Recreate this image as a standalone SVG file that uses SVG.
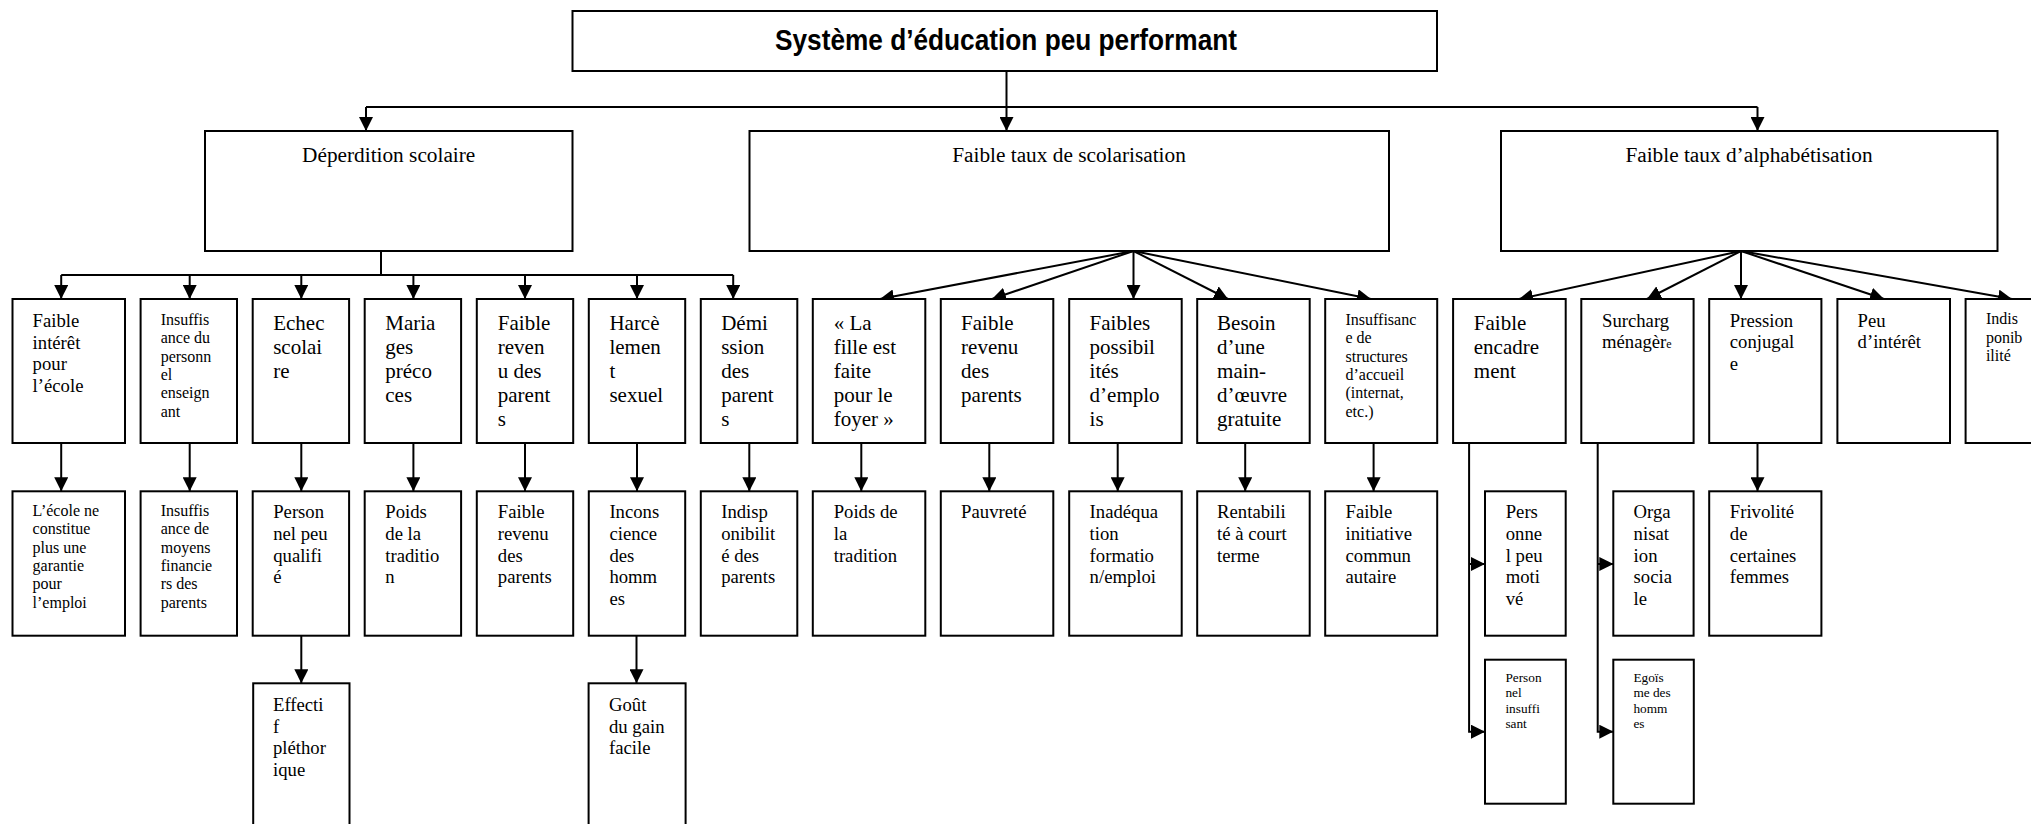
<svg xmlns="http://www.w3.org/2000/svg" width="2031" height="824" viewBox="0 0 2031 824">
  <defs>
    <marker id="arrow" markerUnits="userSpaceOnUse" markerWidth="14" markerHeight="14" refX="14" refY="7" orient="auto">
      <path d="M0,0 L14,7 L0,14 z" fill="#000"/>
    </marker>
    <style>
      .box { fill: #fff; stroke: #000; stroke-width: 2; }
      .wire { fill: none; stroke: #000; stroke-width: 2; }
      .arr { fill: none; stroke: #000; stroke-width: 2; marker-end: url(#arrow); }
      .title { font-family: "Liberation Sans Narrow", "Liberation Sans", Arial, sans-serif; font-weight: bold; font-size: 30px; fill: #000; }
      .h1 { font-family: "Liberation Serif", "Times New Roman", serif; font-size: 21.3px; fill: #000; }
      .lg { font-family: "Liberation Serif", "Times New Roman", serif; font-size: 21px; fill: #000; }
      .md { font-family: "Liberation Serif", "Times New Roman", serif; font-size: 18.7px; fill: #000; }
      .sm { font-family: "Liberation Serif", "Times New Roman", serif; font-size: 16px; fill: #000; }
      .xs { font-family: "Liberation Serif", "Times New Roman", serif; font-size: 13.3px; fill: #000; }
    </style>
  </defs>

  <!-- connectors -->
  <g id="connectors">
    <!-- root to first level -->
    <path class="arr" d="M1006.5,71 V131"/>
    <path class="wire" d="M366,107 H1757.5"/>
    <path class="arr" d="M366,107 V131"/>
    <path class="arr" d="M1757.5,107 V131"/>

    <!-- Déperdition scolaire bus -->
    <path class="wire" d="M381,251 V275"/>
    <path class="wire" d="M61.2,275 H733.2"/>
    <path class="arr" d="M61.2,275 V299"/>
    <path class="arr" d="M189.7,275 V299"/>
    <path class="arr" d="M301.3,275 V299"/>
    <path class="arr" d="M413.4,275 V299"/>
    <path class="arr" d="M525,275 V299"/>
    <path class="arr" d="M637,275 V299"/>
    <path class="arr" d="M733.2,275 V299"/>

    <!-- Faible taux de scolarisation fan -->
    <path class="arr" d="M1133.5,251 L880,299"/>
    <path class="arr" d="M1133.5,251 L992,299"/>
    <path class="arr" d="M1133.5,251 V299"/>
    <path class="arr" d="M1133.5,251 L1228,299"/>
    <path class="arr" d="M1133.5,251 L1371,299"/>

    <!-- Faible taux d'alphabétisation fan -->
    <path class="arr" d="M1741,251 L1519,299"/>
    <path class="arr" d="M1741,251 L1647,299"/>
    <path class="arr" d="M1741,251 V299"/>
    <path class="arr" d="M1741,251 L1884,299"/>
    <path class="arr" d="M1741,251 L2012,299"/>

    <!-- second level to third level -->
    <path class="arr" d="M61.2,443 V491.3"/>
    <path class="arr" d="M189.7,443 V491.3"/>
    <path class="arr" d="M301.3,443 V491.3"/>
    <path class="arr" d="M413.4,443 V491.3"/>
    <path class="arr" d="M525,443 V491.3"/>
    <path class="arr" d="M637,443 V491.3"/>
    <path class="arr" d="M749.3,443 V491.3"/>
    <path class="arr" d="M861.3,443 V491.3"/>
    <path class="arr" d="M989.3,443 V491.3"/>
    <path class="arr" d="M1117.7,443 V491.3"/>
    <path class="arr" d="M1245.2,443 V491.3"/>
    <path class="arr" d="M1373.6,443 V491.3"/>
    <path class="arr" d="M1757.5,443 V491.3"/>

    <!-- third level to fourth level -->
    <path class="arr" d="M301.3,635.7 V683.3"/>
    <path class="arr" d="M636.5,635.7 V683.3"/>

    <!-- side branches -->
    <path class="arr" d="M1469.1,443 V731.7 H1485"/>
    <path class="arr" d="M1469.1,564 H1485"/>
    <path class="arr" d="M1597.7,443 V731.7 H1613.3"/>
    <path class="arr" d="M1597.7,564 H1613.3"/>
  </g>

  <!-- root -->
  <g id="n_root">
    <rect class="box" x="572.5" y="11" width="864.5" height="60"/>
    <text class="title" x="1006" y="50" text-anchor="middle" textLength="462" lengthAdjust="spacingAndGlyphs">Système d’éducation peu performant</text>
  </g>

  <!-- first level -->
  <g id="n_deperdition">
    <rect class="box" x="205" y="131" width="367.5" height="120"/>
    <text class="h1" x="388.7" y="162" text-anchor="middle">Déperdition scolaire</text>
  </g>
  <g id="n_scolarisation">
    <rect class="box" x="749.5" y="131" width="639.5" height="120"/>
    <text class="h1" x="1069" y="162" text-anchor="middle">Faible taux de scolarisation</text>
  </g>
  <g id="n_alphabetisation">
    <rect class="box" x="1501" y="131" width="496.5" height="120"/>
    <text class="h1" x="1749" y="162" text-anchor="middle">Faible taux d’alphabétisation</text>
  </g>

  <!-- second level -->
  <g id="n_interet">
    <rect class="box" x="12.5" y="299" width="112.5" height="144"/>
    <text class="md"><tspan x="32.6" y="327.3">Faible</tspan><tspan x="32.6" y="348.8">intérêt</tspan><tspan x="32.6" y="370.3">pour</tspan><tspan x="32.6" y="391.8">l’école</tspan></text>
  </g>
  <g id="n_personnel">
    <rect class="box" x="140.6" y="299" width="96.4" height="144"/>
    <text class="sm"><tspan x="160.7" y="325">Insuffis</tspan><tspan x="160.7" y="343.3">ance du</tspan><tspan x="160.7" y="361.6">personn</tspan><tspan x="160.7" y="379.9">el</tspan><tspan x="160.7" y="398.2">enseign</tspan><tspan x="160.7" y="416.5">ant</tspan></text>
  </g>
  <g id="n_echec">
    <rect class="box" x="252.7" y="299" width="96.4" height="144"/>
    <text class="lg"><tspan x="273.2" y="330">Echec</tspan><tspan x="273.2" y="354">scolai</tspan><tspan x="273.2" y="378">re</tspan></text>
  </g>
  <g id="n_mariages">
    <rect class="box" x="364.7" y="299" width="96.4" height="144"/>
    <text class="lg"><tspan x="385.3" y="330">Maria</tspan><tspan x="385.3" y="354">ges</tspan><tspan x="385.3" y="378">préco</tspan><tspan x="385.3" y="402">ces</tspan></text>
  </g>
  <g id="n_revenu1">
    <rect class="box" x="476.8" y="299" width="96.4" height="144"/>
    <text class="lg"><tspan x="497.8" y="330">Faible</tspan><tspan x="497.8" y="354">reven</tspan><tspan x="497.8" y="378">u des</tspan><tspan x="497.8" y="402">parent</tspan><tspan x="497.8" y="426">s</tspan></text>
  </g>
  <g id="n_harcelement">
    <rect class="box" x="588.8" y="299" width="96.4" height="144"/>
    <text class="lg"><tspan x="609.4" y="330">Harcè</tspan><tspan x="609.4" y="354">lemen</tspan><tspan x="609.4" y="378">t</tspan><tspan x="609.4" y="402">sexuel</tspan></text>
  </g>
  <g id="n_demission">
    <rect class="box" x="700.8" y="299" width="96.5" height="144"/>
    <text class="lg"><tspan x="721.2" y="330">Démi</tspan><tspan x="721.2" y="354">ssion</tspan><tspan x="721.2" y="378">des</tspan><tspan x="721.2" y="402">parent</tspan><tspan x="721.2" y="426">s</tspan></text>
  </g>
  <g id="n_fille">
    <rect class="box" x="812.8" y="299" width="112.5" height="144"/>
    <text class="lg"><tspan x="833.7" y="330">« La</tspan><tspan x="833.7" y="354">fille est</tspan><tspan x="833.7" y="378">faite</tspan><tspan x="833.7" y="402">pour le</tspan><tspan x="833.7" y="426">foyer »</tspan></text>
  </g>
  <g id="n_revenu2">
    <rect class="box" x="940.8" y="299" width="112.5" height="144"/>
    <text class="lg"><tspan x="961.1" y="330">Faible</tspan><tspan x="961.1" y="354">revenu</tspan><tspan x="961.1" y="378">des</tspan><tspan x="961.1" y="402">parents</tspan></text>
  </g>
  <g id="n_emploi">
    <rect class="box" x="1069.2" y="299" width="112.5" height="144"/>
    <text class="lg"><tspan x="1089.6" y="330">Faibles</tspan><tspan x="1089.6" y="354">possibil</tspan><tspan x="1089.6" y="378">ités</tspan><tspan x="1089.6" y="402">d’emplo</tspan><tspan x="1089.6" y="426">is</tspan></text>
  </g>
  <g id="n_besoin">
    <rect class="box" x="1197.2" y="299" width="112.5" height="144"/>
    <text class="lg"><tspan x="1217.1" y="330">Besoin</tspan><tspan x="1217.1" y="354">d’une</tspan><tspan x="1217.1" y="378">main-</tspan><tspan x="1217.1" y="402">d’œuvre</tspan><tspan x="1217.1" y="426">gratuite</tspan></text>
  </g>
  <g id="n_structures">
    <rect class="box" x="1325.2" y="299" width="112" height="144"/>
    <text class="sm"><tspan x="1345.5" y="325">Insuffisanc</tspan><tspan x="1345.5" y="343.3">e de</tspan><tspan x="1345.5" y="361.6">structures</tspan><tspan x="1345.5" y="379.9">d’accueil</tspan><tspan x="1345.5" y="398.2">(internat,</tspan><tspan x="1345.5" y="416.5">etc.)</tspan></text>
  </g>
  <g id="n_encadrement">
    <rect class="box" x="1453.1" y="299" width="112.6" height="144"/>
    <text class="lg"><tspan x="1473.8" y="330">Faible</tspan><tspan x="1473.8" y="354">encadre</tspan><tspan x="1473.8" y="378">ment</tspan></text>
  </g>
  <g id="n_surcharge">
    <rect class="box" x="1581.3" y="299" width="112.3" height="144"/>
    <text class="md"><tspan x="1602" y="326.7">Surcharg</tspan><tspan x="1602" y="348.3">ménagèr</tspan><tspan font-size="12px">e</tspan></text>
  </g>
  <g id="n_pression">
    <rect class="box" x="1709.2" y="299" width="112.2" height="144"/>
    <text class="md"><tspan x="1729.8" y="326.7">Pression</tspan><tspan x="1729.8" y="348.3">conjugal</tspan><tspan x="1729.8" y="370">e</tspan></text>
  </g>
  <g id="n_peu_interet">
    <rect class="box" x="1837.4" y="299" width="112.6" height="144"/>
    <text class="md"><tspan x="1857.6" y="326.7">Peu</tspan><tspan x="1857.6" y="348.3">d’intérêt</tspan></text>
  </g>
  <g id="n_indisponibilite">
    <rect class="box" x="1965.6" y="299" width="112.6" height="144"/>
    <text class="sm"><tspan x="1985.9" y="324.3">Indis</tspan><tspan x="1985.9" y="342.7">ponib</tspan><tspan x="1985.9" y="361">ilité</tspan></text>
  </g>

  <!-- third level -->
  <g id="n_garantie">
    <rect class="box" x="12.5" y="491.3" width="112.5" height="144.4"/>
    <text class="sm"><tspan x="32.6" y="516">L’école ne</tspan><tspan x="32.6" y="534.3">constitue</tspan><tspan x="32.6" y="552.6">plus une</tspan><tspan x="32.6" y="570.9">garantie</tspan><tspan x="32.6" y="589.2">pour</tspan><tspan x="32.6" y="607.5">l’emploi</tspan></text>
  </g>
  <g id="n_moyens">
    <rect class="box" x="140.6" y="491.3" width="96.4" height="144.4"/>
    <text class="sm"><tspan x="160.7" y="516">Insuffis</tspan><tspan x="160.7" y="534.3">ance de</tspan><tspan x="160.7" y="552.6">moyens</tspan><tspan x="160.7" y="570.9">financie</tspan><tspan x="160.7" y="589.2">rs des</tspan><tspan x="160.7" y="607.5">parents</tspan></text>
  </g>
  <g id="n_qualifie">
    <rect class="box" x="252.7" y="491.3" width="96.4" height="144.4"/>
    <text class="md"><tspan x="273.2" y="518.3">Person</tspan><tspan x="273.2" y="540">nel peu</tspan><tspan x="273.2" y="561.7">qualifi</tspan><tspan x="273.2" y="583.4">é</tspan></text>
  </g>
  <g id="n_tradition1">
    <rect class="box" x="364.7" y="491.3" width="96.4" height="144.4"/>
    <text class="md"><tspan x="385.3" y="518.3">Poids</tspan><tspan x="385.3" y="540">de la</tspan><tspan x="385.3" y="561.7">traditio</tspan><tspan x="385.3" y="583.4">n</tspan></text>
  </g>
  <g id="n_revenu3">
    <rect class="box" x="476.8" y="491.3" width="96.4" height="144.4"/>
    <text class="md"><tspan x="497.8" y="518.3">Faible</tspan><tspan x="497.8" y="540">revenu</tspan><tspan x="497.8" y="561.7">des</tspan><tspan x="497.8" y="583.4">parents</tspan></text>
  </g>
  <g id="n_inconscience">
    <rect class="box" x="588.8" y="491.3" width="96.4" height="144.4"/>
    <text class="md"><tspan x="609.4" y="518.3">Incons</tspan><tspan x="609.4" y="540">cience</tspan><tspan x="609.4" y="561.7">des</tspan><tspan x="609.4" y="583.4">homm</tspan><tspan x="609.4" y="605.1">es</tspan></text>
  </g>
  <g id="n_indisponibilite_parents">
    <rect class="box" x="700.8" y="491.3" width="96.5" height="144.4"/>
    <text class="md"><tspan x="721.2" y="518.3">Indisp</tspan><tspan x="721.2" y="540">onibilit</tspan><tspan x="721.2" y="561.7">é des</tspan><tspan x="721.2" y="583.4">parents</tspan></text>
  </g>
  <g id="n_tradition2">
    <rect class="box" x="812.8" y="491.3" width="112.5" height="144.4"/>
    <text class="md"><tspan x="833.7" y="518.3">Poids de</tspan><tspan x="833.7" y="540">la</tspan><tspan x="833.7" y="561.7">tradition</tspan></text>
  </g>
  <g id="n_pauvrete">
    <rect class="box" x="940.8" y="491.3" width="112.5" height="144.4"/>
    <text class="md" x="961.1" y="518.3">Pauvreté</text>
  </g>
  <g id="n_inadequation">
    <rect class="box" x="1069.2" y="491.3" width="112.5" height="144.4"/>
    <text class="md"><tspan x="1089.6" y="518.3">Inadéqua</tspan><tspan x="1089.6" y="540">tion</tspan><tspan x="1089.6" y="561.7">formatio</tspan><tspan x="1089.6" y="583.4">n/emploi</tspan></text>
  </g>
  <g id="n_rentabilite">
    <rect class="box" x="1197.2" y="491.3" width="112.5" height="144.4"/>
    <text class="md"><tspan x="1217.1" y="518.3">Rentabili</tspan><tspan x="1217.1" y="540">té à court</tspan><tspan x="1217.1" y="561.7">terme</tspan></text>
  </g>
  <g id="n_initiative">
    <rect class="box" x="1325.2" y="491.3" width="112" height="144.4"/>
    <text class="md"><tspan x="1345.5" y="518.3">Faible</tspan><tspan x="1345.5" y="540">initiative</tspan><tspan x="1345.5" y="561.7">commun</tspan><tspan x="1345.5" y="583.4">autaire</tspan></text>
  </g>
  <g id="n_motive">
    <rect class="box" x="1485" y="491.3" width="80.7" height="144.4"/>
    <text class="md"><tspan x="1505.7" y="518.3">Pers</tspan><tspan x="1505.7" y="540">onne</tspan><tspan x="1505.7" y="561.7">l peu</tspan><tspan x="1505.7" y="583.4">moti</tspan><tspan x="1505.7" y="605.1">vé</tspan></text>
  </g>
  <g id="n_organisation">
    <rect class="box" x="1613.3" y="491.3" width="80.3" height="144.4"/>
    <text class="md"><tspan x="1633.6" y="518.3">Orga</tspan><tspan x="1633.6" y="540">nisat</tspan><tspan x="1633.6" y="561.7">ion</tspan><tspan x="1633.6" y="583.4">socia</tspan><tspan x="1633.6" y="605.1">le</tspan></text>
  </g>
  <g id="n_frivolite">
    <rect class="box" x="1709.2" y="491.3" width="112.2" height="144.4"/>
    <text class="md"><tspan x="1729.8" y="518.3">Frivolité</tspan><tspan x="1729.8" y="540">de</tspan><tspan x="1729.8" y="561.7">certaines</tspan><tspan x="1729.8" y="583.4">femmes</tspan></text>
  </g>

  <!-- fourth level -->
  <g id="n_effectif">
    <rect class="box" x="253.2" y="683.3" width="96.3" height="160"/>
    <text class="md"><tspan x="273" y="711">Effecti</tspan><tspan x="273" y="732.7">f</tspan><tspan x="273" y="754.4">pléthor</tspan><tspan x="273" y="776.1">ique</tspan></text>
  </g>
  <g id="n_gain">
    <rect class="box" x="588.6" y="683.3" width="97" height="160"/>
    <text class="md"><tspan x="609" y="711">Goût</tspan><tspan x="609" y="732.7">du gain</tspan><tspan x="609" y="754.4">facile</tspan></text>
  </g>
  <g id="n_insuffisant">
    <rect class="box" x="1485" y="659.7" width="80.8" height="144"/>
    <text class="xs"><tspan x="1505.4" y="681.7">Person</tspan><tspan x="1505.4" y="697.2">nel</tspan><tspan x="1505.4" y="712.7">insuffi</tspan><tspan x="1505.4" y="728.2">sant</tspan></text>
  </g>
  <g id="n_egoisme">
    <rect class="box" x="1613.3" y="659.7" width="80.5" height="144"/>
    <text class="xs"><tspan x="1633.4" y="681.7">Egoïs</tspan><tspan x="1633.4" y="697.2">me des</tspan><tspan x="1633.4" y="712.7">homm</tspan><tspan x="1633.4" y="728.2">es</tspan></text>
  </g>
</svg>
